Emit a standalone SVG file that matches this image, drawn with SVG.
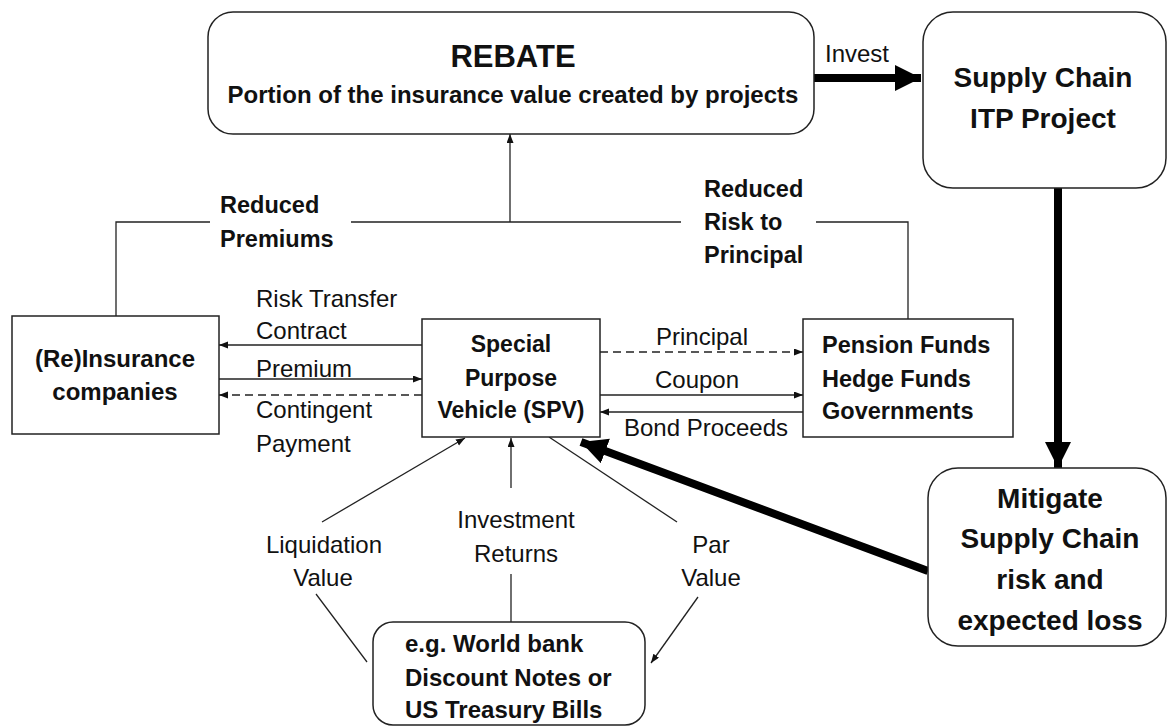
<svg xmlns="http://www.w3.org/2000/svg" width="1168" height="726" viewBox="0 0 1168 726">
<style>
text{font-family:"Liberation Sans",Arial,sans-serif;fill:#111}
.b{font-weight:bold}
.r{font-size:24px}
.m{text-anchor:middle}
.box{fill:#fff;stroke:#222;stroke-width:1.5}
.thin{stroke:#222;stroke-width:1.3;fill:none}
.dash{stroke-dasharray:8 5}
.thick{stroke:#000;stroke-width:8;fill:none}
</style>
<defs>
<marker id="a" markerUnits="userSpaceOnUse" markerWidth="10" markerHeight="8" refX="9" refY="3.5" orient="auto"><path d="M0,0 L9,3.5 L0,7 z" fill="#111"/></marker>
<marker id="A" markerUnits="userSpaceOnUse" markerWidth="28" markerHeight="28" refX="26" refY="13" orient="auto"><path d="M0,0 L26,13 L0,26 z" fill="#000"/></marker>
</defs>
<rect width="1168" height="726" fill="#fff"/>
<g id="connectors">
<line class="thin" x1="422" y1="345" x2="219" y2="345" marker-end="url(#a)"/>
<line class="thin" x1="219" y1="379" x2="422" y2="379" marker-end="url(#a)"/>
<line class="thin dash" x1="422" y1="395" x2="219" y2="395" marker-end="url(#a)"/>
<line class="thin dash" x1="600" y1="352" x2="803" y2="352" marker-end="url(#a)"/>
<line class="thin" x1="600" y1="395" x2="803" y2="395" marker-end="url(#a)"/>
<line class="thin" x1="803" y1="412" x2="600" y2="412" marker-end="url(#a)"/>
<path class="thin" d="M116,316 V222 H210 M351,222 H681 M816,222 H908 V319"/>
<line class="thin" x1="510" y1="222" x2="510" y2="134" marker-end="url(#a)"/>
<line class="thick" x1="813" y1="78" x2="921" y2="78" marker-end="url(#A)"/>
<line class="thick" x1="1058" y1="188" x2="1058" y2="468" marker-end="url(#A)"/>
<line class="thick" x1="928" y1="571" x2="581" y2="442" marker-end="url(#A)"/>
<line class="thin" x1="316" y1="594" x2="367" y2="662"/>
<line class="thin" x1="322" y1="522" x2="465" y2="438" marker-end="url(#a)"/>
<line class="thin" x1="511" y1="622" x2="511" y2="574"/>
<line class="thin" x1="511" y1="488" x2="511" y2="438" marker-end="url(#a)"/>
<line class="thin" x1="549" y1="437" x2="677" y2="522"/>
<line class="thin" x1="698" y1="597" x2="651" y2="663" marker-end="url(#a)"/>
<text class="r" x="256" y="307">Risk Transfer</text>
<text class="r" x="256" y="339">Contract</text>
<text class="r" x="256" y="377">Premium</text>
<text class="r" x="256" y="418">Contingent</text>
<text class="r" x="256" y="452">Payment</text>
<text class="r m" x="702" y="345">Principal</text>
<text class="r m" x="697" y="388">Coupon</text>
<text class="r m" x="706" y="436">Bond Proceeds</text>
<text class="r m" x="324" y="553">Liquidation</text>
<text class="r m" x="323" y="586">Value</text>
<text class="r m" x="516" y="528">Investment</text>
<text class="r m" x="516" y="562">Returns</text>
<text class="r m" x="711" y="553">Par</text>
<text class="r m" x="711" y="586">Value</text>
<text class="r" x="825" y="62">Invest</text>
<text class="b" font-size="23.5" x="220" y="213">Reduced</text>
<text class="b" font-size="23.5" x="220" y="247">Premiums</text>
<text class="b" font-size="23.5" x="704" y="197">Reduced</text>
<text class="b" font-size="23.5" x="704" y="230">Risk to</text>
<text class="b" font-size="23.5" x="704" y="263">Principal</text>
</g>
<g id="rebate">
<rect class="box" x="208" y="12" width="606" height="122" rx="25"/>
<text class="b m" font-size="31" x="513" y="67">REBATE</text>
<text class="b m" font-size="24" x="513" y="103">Portion of the insurance value created by projects</text>
</g>
<g id="itp">
<rect class="box" x="923" y="12" width="243" height="176" rx="30"/>
<text class="b m" font-size="28" x="1043" y="87">Supply Chain</text>
<text class="b m" font-size="28" x="1043" y="128">ITP Project</text>
</g>
<g id="insurance">
<rect class="box" x="12" y="316" width="207" height="118"/>
<text class="b m" font-size="24" x="115" y="367">(Re)Insurance</text>
<text class="b m" font-size="24" x="115" y="400">companies</text>
</g>
<g id="spv">
<rect class="box" x="422" y="319" width="178" height="118"/>
<text class="b m" font-size="23" x="511" y="352">Special</text>
<text class="b m" font-size="23" x="511" y="386">Purpose</text>
<text class="b m" font-size="23" x="511" y="418">Vehicle (SPV)</text>
</g>
<g id="pension">
<rect class="box" x="803" y="319" width="210" height="118"/>
<text class="b" font-size="23.5" x="822" y="353">Pension Funds</text>
<text class="b" font-size="23.5" x="822" y="387">Hedge Funds</text>
<text class="b" font-size="23.5" x="822" y="419">Governments</text>
</g>
<g id="mitigate">
<rect class="box" x="928" y="468" width="238" height="178" rx="30"/>
<text class="b m" font-size="28" x="1050" y="508">Mitigate</text>
<text class="b m" font-size="28" x="1050" y="548">Supply Chain</text>
<text class="b m" font-size="28" x="1050" y="589">risk and</text>
<text class="b m" font-size="28" x="1050" y="630">expected loss</text>
</g>
<g id="securities">
<rect class="box" x="373" y="622" width="272" height="103" rx="20"/>
<text class="b" font-size="24" x="405" y="652">e.g. World bank</text>
<text class="b" font-size="24" x="405" y="686">Discount Notes or</text>
<text class="b" font-size="24" x="405" y="718">US Treasury Bills</text>
</g>
</svg>
